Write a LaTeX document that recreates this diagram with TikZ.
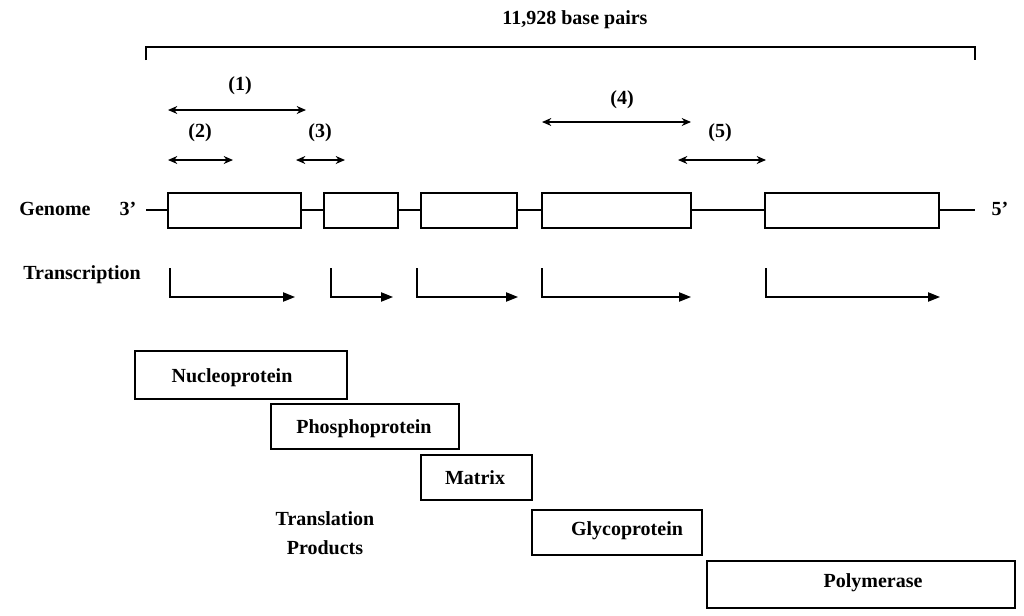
\documentclass[tikz,border=0pt]{standalone}
\usepackage{fontspec}
\setmainfont{Liberation Serif}
\usetikzlibrary{arrows.meta}
\begin{document}
\begin{tikzpicture}[x=0.75pt,y=-0.75pt,
  txt/.style={font=\fontsize{15}{18}\selectfont\bfseries,inner sep=0pt},
  gbox/.style={draw,line width=0.9pt,fill=white},
  dbl/.style={{Stealth[length=7pt,width=6pt]}-{Stealth[length=7pt,width=6pt]},line width=0.9pt},
  tr/.style={-{Triangle[length=9pt,width=7pt]},line width=0.9pt},
  ln/.style={line width=0.9pt}]
\useasboundingbox (0,0) rectangle (1024,615);
% top bracket
\coordinate (bl) at (146,60); \coordinate (br) at (975,60);
\draw[ln] (bl) -- ++(0,-13) -| (br);
\node[txt] (bp) at (575,20) {11,928 base pairs};
% genome
\coordinate (g0) at (146,210); \coordinate (g1) at (975,210);
\draw[ln] (g0) -- (g1);
\node[txt] (gl) at (55,209) {Genome};
\node[txt] (t3) at (128,209) {3’};
\node[txt] (t5) at (1000,209) {5’};
\foreach \a/\b/\n in {168/301/1,324/398/2,421/517/3,542/691/4,765/939/5}
  \draw[gbox] (\a,193) rectangle (\b,228);
% double arrows
\foreach \a/\b/\y/\lx/\ly/\t in {168/306/110/240/86/1,168/233/160/200/133/2,296/345/160/320/133/3,542/691/122/622/100/4,678/766/160/720/133/5}{
  \draw[dbl] (\a,\y) -- (\b,\y);
  \node[txt] at (\lx,\ly) {(\t)};
}
% transcription
\node[txt] (tl) at (82,275) {Transcription};
\foreach \a/\b in {170/295,331/393,417/518,542/691,766/940}
  \draw[tr] (\a,268) -- (\a,297) -- (\b,297);
% proteins
\tikzset{pbox/.style={draw,line width=0.9pt}}
\draw[pbox] (135,351) rectangle (347,399); \node[txt] (np) at (232,378) {Nucleoprotein};
\draw[pbox] (271,404) rectangle (459,449); \node[txt] (pp) at (364,429) {Phosphoprotein};
\draw[pbox] (421,455) rectangle (532,500); \node[txt] (mx) at (475,478) {Matrix};
\draw[pbox] (532,510) rectangle (702,555); \node[txt] (gp) at (627,531) {Glycoprotein};
\draw[pbox] (707,561) rectangle (1015,608); \node[txt] (pm) at (873,583) {Polymerase};
\node[txt,align=center] (tp) at (325,533) {Translation\\[4pt]Products};
\end{tikzpicture}
\end{document}
